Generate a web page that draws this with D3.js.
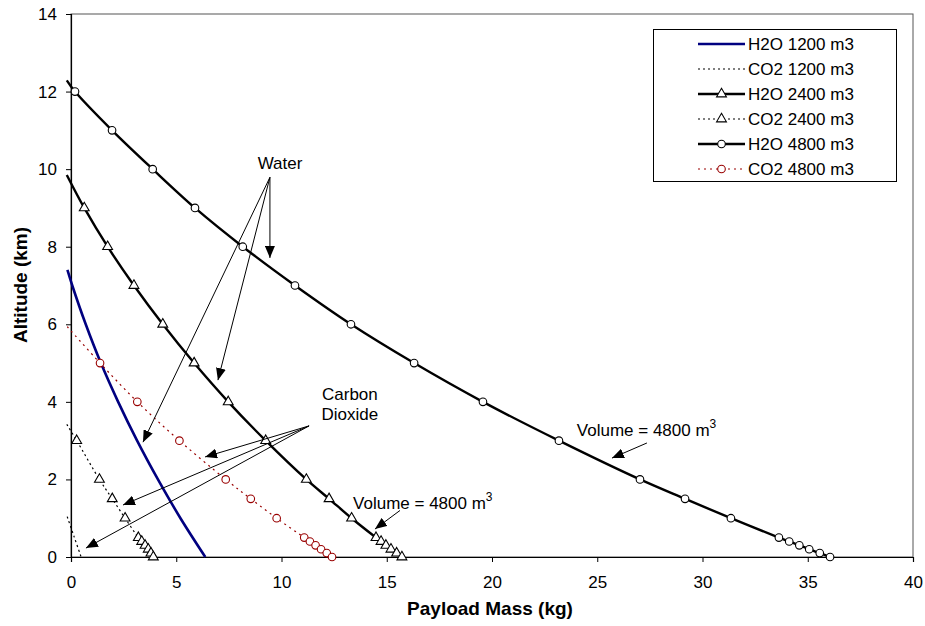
<!DOCTYPE html>
<html><head><meta charset="utf-8">
<script src="https://cdn.jsdelivr.net/npm/d3@7"></script>
<style>
body{margin:0;background:#fff;}
text{font-family:"Liberation Sans",Arial,sans-serif;fill:#000;}
</style>
</head><body>
<svg id="chart" width="925" height="626"></svg>
<script>
// ---------- data ----------
const xTicks = [0, 5, 10, 15, 20, 25, 30, 35, 40];
const yTicks = [0, 2, 4, 6, 8, 10, 12, 14];
const seriesNames = ["H2O 1200 m3", "CO2 1200 m3", "H2O 2400 m3", "CO2 2400 m3", "H2O 4800 m3", "CO2 4800 m3"];

// Payload mass (kg) and altitude (km); first point of each series is where the line meets the axis (no marker)
const h2o1200Mass = [-0.17, 0.06, 0.70, 1.42, 2.24, 3.14, 4.13, 5.20, 6.38];
const h2o1200Alt  = [7.40, 7.00, 6.00, 5.00, 4.00, 3.00, 2.00, 1.00, 0.00];

const co21200Mass = [-0.18, 0.15, 0.48];
const co21200Alt  = [1.04, 0.52, 0.00];

const h2o2400Mass = [-0.2, 0.63, 1.74, 2.99, 4.36, 5.85, 7.47, 9.25, 11.18, 12.26, 13.33, 14.49, 14.73, 14.96, 15.20, 15.47, 15.72];
const h2o2400Alt  = [9.85, 9, 8, 7, 6, 5, 4, 3, 2, 1.5, 1, 0.5, 0.4, 0.3, 0.2, 0.1, 0];

const co22400Mass = [-0.2, 0.27, 1.35, 1.96, 2.57, 3.20, 3.36, 3.52, 3.67, 3.80, 3.91];
const co22400Alt  = [3.42, 3, 2, 1.5, 1, 0.5, 0.4, 0.3, 0.2, 0.1, 0];

const h2o4800Mass = [-0.2, 0.19, 1.95, 3.88, 5.89, 8.16, 10.64, 13.30, 16.30, 19.57, 23.18, 27.03, 29.17, 31.35, 33.63, 34.12, 34.60, 35.07, 35.57, 36.06];
const h2o4800Alt  = [12.29, 12, 11, 10, 9, 8, 7, 6, 5, 4, 3, 2, 1.5, 1, 0.5, 0.4, 0.3, 0.2, 0.1, 0];

const co24800Mass = [-0.18, 1.38, 3.15, 5.15, 7.35, 8.54, 9.77, 11.08, 11.35, 11.62, 11.88, 12.15, 12.40];
const co24800Alt  = [5.94, 5, 4, 3, 2, 1.5, 1, 0.5, 0.4, 0.3, 0.2, 0.1, 0];

// annotations (data units)
const waterLabel = [9.93, 10.15];
const waterFrom = [9.45, 9.79];
const waterTips = [[9.45, 7.71], [6.98, 4.56], [3.42, 2.96]];
const co2Label = [13.25, 4.2];
const co2From = [11.31, 3.38];
const co2Tips = [[6.37, 2.58], [2.47, 1.34], [0.71, 0.23]];
const vol1Label = [13.4, 1.4];
const vol1From = [15.63, 1.2];
const vol1Tip = [14.44, 0.72];
const vol2Label = [24.03, 3.27];
const vol2From = [27.36, 2.94];
const vol2Tip = [25.70, 2.55];

// ---------- drawing ----------
const svg = d3.select("#chart");
const x = d3.scaleLinear().domain([0, 40]).range([71, 913]);
const y = d3.scaleLinear().domain([0, 14]).range([557, 14]);

const defs = svg.append("defs");
defs.append("marker").attr("id", "arrow")
  .attr("viewBox", "0 0 12 10").attr("refX", 12).attr("refY", 5)
  .attr("markerWidth", 12).attr("markerHeight", 10)
  .attr("markerUnits", "userSpaceOnUse").attr("orient", "auto")
  .append("path").attr("d", "M0,0 L12,5 L0,10 Z").attr("fill", "#000");

// plot frame
svg.append("rect").attr("x", 71).attr("y", 14).attr("width", 842).attr("height", 543)
  .attr("fill", "none").attr("stroke", "#555").attr("stroke-width", 1);

// axes
const xAxis = d3.axisBottom(x).tickValues(xTicks).tickSize(5).tickPadding(14).tickFormat(d3.format("d"));
const yAxis = d3.axisLeft(y).tickValues(yTicks).tickSize(5).tickPadding(9).tickFormat(d3.format("d"));
const gx = svg.append("g").attr("transform", "translate(0,557)").call(xAxis);
const gy = svg.append("g").attr("transform", "translate(71,0)").call(yAxis);
[gx, gy].forEach(g => {
  g.selectAll("path.domain").attr("stroke", "#000").attr("stroke-width", 1.2);
  g.selectAll(".tick line").attr("stroke", "#000");
  g.selectAll(".tick text").style("font-family", '"Liberation Sans",Arial,sans-serif').style("font-size", "17px").attr("fill", "#000");
});

svg.append("text").attr("x", 490).attr("y", 615).attr("text-anchor", "middle")
  .style("font-size", "19px").style("font-weight", "bold").text("Payload Mass (kg)");
svg.append("text").attr("transform", "translate(27,285) rotate(-90)").attr("text-anchor", "middle")
  .style("font-size", "19px").style("font-weight", "bold").text("Altitude (km)");

// series
const series = [
  {name: seriesNames[0], mass: h2o1200Mass, alt: h2o1200Alt, color: "#000080", width: 2.6, dash: null, marker: null},
  {name: seriesNames[1], mass: co21200Mass, alt: co21200Alt, color: "#000", width: 1.2, dash: "2,3", marker: null},
  {name: seriesNames[2], mass: h2o2400Mass, alt: h2o2400Alt, color: "#000", width: 2.4, dash: null, marker: "tri"},
  {name: seriesNames[3], mass: co22400Mass, alt: co22400Alt, color: "#000", width: 1.2, dash: "2,3", marker: "tri"},
  {name: seriesNames[4], mass: h2o4800Mass, alt: h2o4800Alt, color: "#000", width: 2.4, dash: null, marker: "circ"},
  {name: seriesNames[5], mass: co24800Mass, alt: co24800Alt, color: "#990000", width: 1.2, dash: "2,4", marker: "circ"}
];

const line = d3.line().x(d => x(d[0])).y(d => y(d[1])).curve(d3.curveCatmullRom);
const triPath = d3.symbol().type(d3.symbolTriangle).size(42)();

function drawMarker(g, type, cx, cy, color) {
  if (type === "tri") {
    g.append("path").attr("d", triPath).attr("transform", `translate(${cx},${cy})`)
      .attr("fill", "#fff").attr("stroke", color).attr("stroke-width", 1.1);
  } else if (type === "circ") {
    g.append("circle").attr("cx", cx).attr("cy", cy).attr("r", 3.8)
      .attr("fill", "#fff").attr("stroke", color).attr("stroke-width", 1.1);
  }
}

series.forEach(s => {
  const pts = s.mass.map((m, i) => [m, s.alt[i]]);
  const g = svg.append("g");
  g.append("path").attr("d", line(pts)).attr("fill", "none")
    .attr("stroke", s.color).attr("stroke-width", s.width)
    .attr("stroke-dasharray", s.dash);
  if (s.marker) {
    pts.slice(1).forEach(p => drawMarker(g, s.marker, x(p[0]), y(p[1]), s.color));
  }
});

// annotations
function arrow(from, tip) {
  svg.append("line").attr("x1", x(from[0])).attr("y1", y(from[1]))
    .attr("x2", x(tip[0])).attr("y2", y(tip[1]))
    .attr("stroke", "#000").attr("stroke-width", 1).attr("marker-end", "url(#arrow)");
}
waterTips.forEach(t => arrow(waterFrom, t));
co2Tips.forEach(t => arrow(co2From, t));
arrow(vol1From, vol1Tip);
arrow(vol2From, vol2Tip);

svg.append("text").attr("x", x(waterLabel[0])).attr("y", y(waterLabel[1]) + 6)
  .attr("text-anchor", "middle").style("font-size", "17px").text("Water");
const co2Text = svg.append("text").attr("x", x(co2Label[0])).attr("y", y(co2Label[1]) + 6)
  .attr("text-anchor", "middle").style("font-size", "17px");
co2Text.append("tspan").attr("x", x(co2Label[0])).text("Carbon");
co2Text.append("tspan").attr("x", x(co2Label[0])).attr("dy", 20).text("Dioxide");

[vol1Label, vol2Label].forEach(p => {
  const t = svg.append("text").attr("x", x(p[0])).attr("y", y(p[1]) + 6).style("font-size", "17px");
  t.append("tspan").text("Volume = 4800 m");
  t.append("tspan").attr("dy", -8).style("font-size", "12px").text("3");
});

// legend
const lg = svg.append("g");
lg.append("rect").attr("x", 653.5).attr("y", 29.5).attr("width", 243).attr("height", 152)
  .attr("fill", "#fff").attr("stroke", "#000").attr("stroke-width", 1);
series.forEach((s, i) => {
  const cy = 44 + i * 25;
  lg.append("line").attr("x1", 698).attr("x2", 745).attr("y1", cy).attr("y2", cy)
    .attr("stroke", s.color).attr("stroke-width", s.width).attr("stroke-dasharray", s.dash);
  if (s.marker) drawMarker(lg, s.marker, 721.5, cy, s.color);
  lg.append("text").attr("x", 748).attr("y", cy + 6).style("font-size", "17px").text(s.name);
});
</script>
</body></html>
